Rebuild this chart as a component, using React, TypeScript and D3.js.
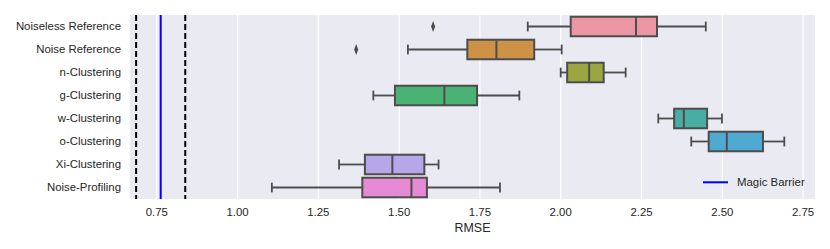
import React from "react";
import * as d3 from "d3";

const categories = [
  "Noiseless Reference",
  "Noise Reference",
  "n-Clustering",
  "g-Clustering",
  "w-Clustering",
  "o-Clustering",
  "Xi-Clustering",
  "Noise-Profiling",
];
const whiskerLow = [1.898, 1.527, 2.0, 1.42, 2.302, 2.404, 1.314, 1.106];
const q1 = [2.031, 1.711, 2.02, 1.487, 2.351, 2.458, 1.394, 1.386];
const medians = [2.233, 1.801, 2.088, 1.64, 2.381, 2.514, 1.479, 1.538];
const q3 = [2.298, 1.918, 2.133, 1.741, 2.453, 2.626, 1.578, 1.586];
const whiskerHigh = [2.449, 2.003, 2.201, 1.872, 2.499, 2.692, 1.622, 1.812];
const outliers: [number, number][] = [
  [0, 1.605],
  [1, 1.367],
];
const boxColors = [
  "#ea96a3",
  "#cd9245",
  "#9ca640",
  "#4ab373",
  "#48ada3",
  "#50a9d0",
  "#b6a6ea",
  "#e68ad6",
];
const xTicks = [0.75, 1.0, 1.25, 1.5, 1.75, 2.0, 2.25, 2.5, 2.75];
const magicBarrier = 0.762;
const barrierBounds = [0.686, 0.838];

const W = 830;
const H = 249;
const left = 130;
const right = 815;
const top = 15;
const bottom = 199;
const FONT = "'Liberation Sans', Arial, sans-serif";
const LINE = "#4d4d4d";

export default function App() {
  const x = d3.scaleLinear().domain([0.667, 2.787]).range([left, right]);
  const y = d3.scaleBand<string>().domain(categories).range([top, bottom]);
  const bw = y.bandwidth() * 0.85;
  const diamond = d3.symbol().type(d3.symbolDiamond).size(22)() as string;

  return (
    <svg
      width={W}
      height={H}
      style={{ position: "absolute", left: 0, top: 0, fontFamily: FONT }}
    >
      <rect x={0} y={0} width={W} height={H} fill="#ffffff" />
      <rect x={left} y={top} width={right - left} height={bottom - top} fill="#eaeaf2" />
      {xTicks.map((t) => (
        <line
          key={"g" + t}
          x1={x(t)}
          x2={x(t)}
          y1={top}
          y2={bottom}
          stroke="#ffffff"
          strokeWidth={1.2}
        />
      ))}
      {categories.map((c, i) => {
        const cy = (y(c) as number) + y.bandwidth() / 2;
        const capH = bw / 2;
        return (
          <g key={c}>
            <line x1={x(whiskerLow[i])} x2={x(q1[i])} y1={cy} y2={cy} stroke={LINE} strokeWidth={1.8} />
            <line x1={x(q3[i])} x2={x(whiskerHigh[i])} y1={cy} y2={cy} stroke={LINE} strokeWidth={1.8} />
            <line x1={x(whiskerLow[i])} x2={x(whiskerLow[i])} y1={cy - capH / 2} y2={cy + capH / 2} stroke={LINE} strokeWidth={1.8} />
            <line x1={x(whiskerHigh[i])} x2={x(whiskerHigh[i])} y1={cy - capH / 2} y2={cy + capH / 2} stroke={LINE} strokeWidth={1.8} />
            <rect
              x={x(q1[i])}
              y={cy - bw / 2}
              width={x(q3[i]) - x(q1[i])}
              height={bw}
              fill={boxColors[i]}
              stroke={LINE}
              strokeWidth={2}
            />
            <line x1={x(medians[i])} x2={x(medians[i])} y1={cy - bw / 2} y2={cy + bw / 2} stroke={LINE} strokeWidth={2} />
          </g>
        );
      })}
      {outliers.map(([ci, v], k) => {
        const cy = (y(categories[ci]) as number) + y.bandwidth() / 2;
        return (
          <path
            key={"o" + k}
            d={diamond}
            transform={`translate(${x(v)},${cy}) scale(0.8,1.25)`}
            fill={LINE}
          />
        );
      })}
      {barrierBounds.map((b) => (
        <line
          key={"b" + b}
          x1={x(b)}
          x2={x(b)}
          y1={top}
          y2={bottom}
          stroke="#000000"
          strokeWidth={2}
          strokeDasharray="6,3"
        />
      ))}
      <line x1={x(magicBarrier)} x2={x(magicBarrier)} y1={top} y2={bottom} stroke="#0000ff" strokeWidth={2} />
      {categories.map((c) => (
        <text
          key={"l" + c}
          x={left - 9}
          y={(y(c) as number) + y.bandwidth() / 2}
          dy="0.35em"
          textAnchor="end"
          fontSize={11.4}
          fill="#262626"
        >
          {c}
        </text>
      ))}
      {xTicks.map((t) => (
        <text key={"t" + t} x={x(t)} y={216} textAnchor="middle" fontSize={11.4} fill="#262626">
          {d3.format(".2f")(t)}
        </text>
      ))}
      <text x={(left + right) / 2} y={232} textAnchor="middle" fontSize={12.4} fill="#262626">
        RMSE
      </text>
      <line x1={703} x2={728} y1={182.3} y2={182.3} stroke="#0000ff" strokeWidth={2} />
      <text x={737} y={182.3} dy="0.35em" fontSize={11.4} fill="#262626">
        Magic Barrier
      </text>
    </svg>
  );
}
